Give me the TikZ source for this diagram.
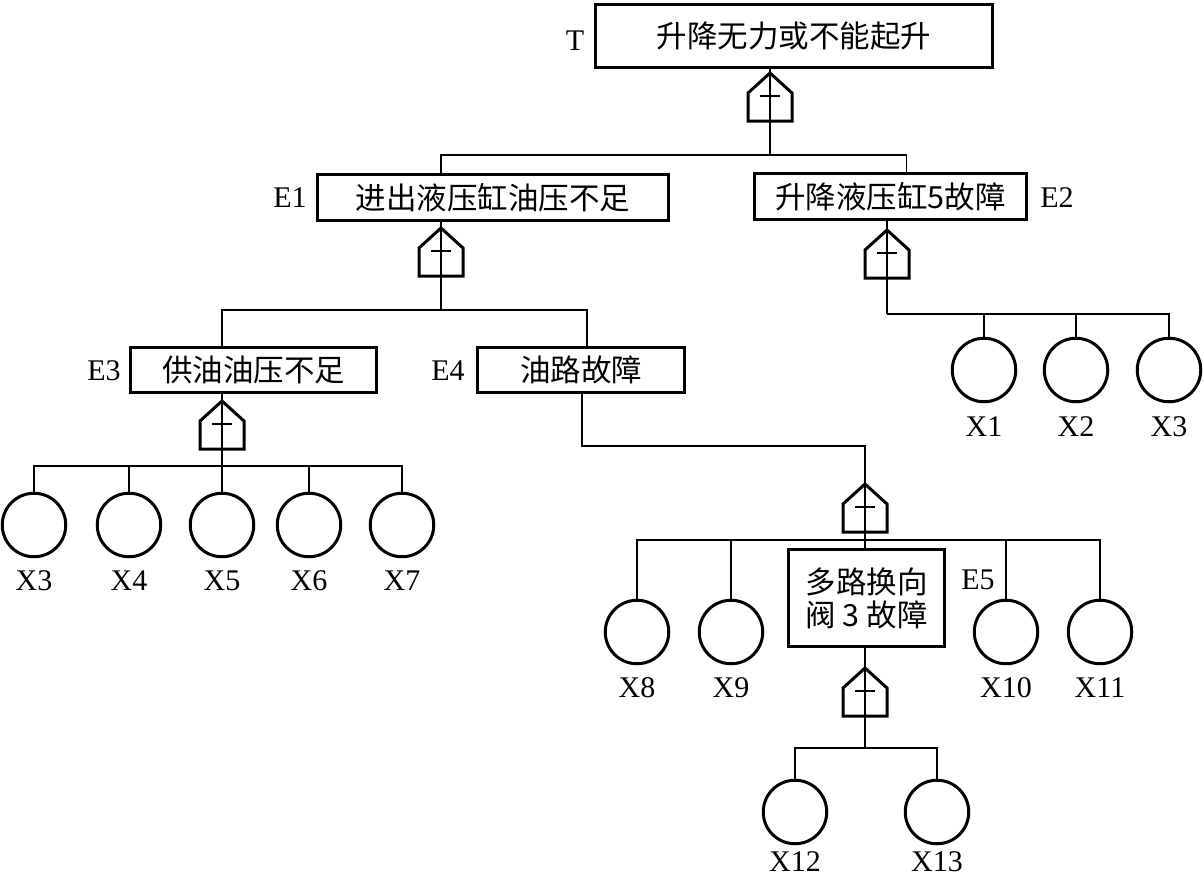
\documentclass[tikz,border=0pt]{standalone}
\usepackage{fontspec}
\setmainfont{Liberation Serif}
\newfontfamily\cjk{Noto Sans CJK SC}
\tikzset{
    orgate/.pic={
        \coordinate (-top) at (0,0);
        \coordinate (-bot) at (0,48);
        \draw[line width=3pt, line join=miter] (-22,48) -- (-22,20) -- (0,0) -- (22,20) -- (22,48) -- cycle;
        \draw[line width=2.4pt] (-10,23) -- (10,23);
    }
}
\begin{document}
\begin{tikzpicture}[
    x=1pt, y=-1pt,
    every node/.style={inner sep=0pt},
    tag/.style={font=\fontsize{30}{32}\selectfont},
    event/.style={draw, line width=3pt, font=\fontsize{30.5}{33}\selectfont\cjk, align=center},
    basic/.style={draw, circle, line width=3pt, minimum size=63.5pt},
    link/.style={draw, line width=1.4pt}
]
\useasboundingbox (0,0) rectangle (1204,878);
\node[event, minimum width=397pt, minimum height=63pt] (T) at (794,36) {升降无力或不能起升};
\node[tag] (Tl) at (575,41) {T};
\node[event, minimum width=351pt, minimum height=46pt] (E1) at (493,197.5) {进出液压缸油压不足};
\node[tag] (E1l) at (290,198) {E1};
\node[event, minimum width=272pt, minimum height=46pt] (E2) at (890.5,196.5) {升降液压缸5故障};
\node[tag] (E2l) at (1057,198) {E2};
\node[event, minimum width=246pt, minimum height=45pt] (E3) at (253.5,370) {供油油压不足};
\node[tag] (E3l) at (104,371) {E3};
\node[event, minimum width=207pt, minimum height=45pt] (E4) at (581,370) {油路故障};
\node[tag] (E4l) at (448,371) {E4};
\node[event, minimum width=156pt, minimum height=97pt] (E5) at (866.5,598) {多路换向\\阀 3 故障};
\node[tag] (E5l) at (978,580) {E5};

\pic (g0) at (770,73) {orgate};
\pic (g1) at (441,228) {orgate};
\pic (g2) at (887,230) {orgate};
\pic (g3) at (222,401) {orgate};
\pic (g4) at (865,484) {orgate};
\pic (g5) at (865,668) {orgate};

\coordinate (b0) at (770,155);
\coordinate (b1) at (441,310);
\coordinate (b2) at (887,314);
\coordinate (b3) at (222,466);
\coordinate (b4) at (865,540);
\coordinate (b5) at (865,748);
\coordinate (k4) at (582,446);

\foreach \i/\x in {1/984, 2/1076, 3/1169} {
    \node[basic] (e2x\i) at (\x,370) {};
    \node[tag] (e2x\i l) at (\x,427) {X\i};
}
\foreach \i/\x in {3/34, 4/129, 5/222, 6/309, 7/402} {
    \node[basic] (e3x\i) at (\x,525) {};
    \node[tag] (e3x\i l) at (\x,581) {X\i};
}
\foreach \i/\x in {8/637, 9/731, 10/1006, 11/1100} {
    \node[basic] (e4x\i) at (\x,632) {};
    \node[tag] (e4x\i l) at (\x,688) {X\i};
}
\foreach \i/\x in {12/795, 13/937} {
    \node[basic] (e5x\i) at (\x,812) {};
    \node[tag] (e5x\i l) at (\x,862) {X\i};
}

\draw[link] (T.south -| g0-top) -- (g0-bot) -- (b0);
\draw[link] (b0) -| (E1.north -| g1-top);
\draw[link] (b0) -| ([xshift=16pt]E2.north);
\draw[link] (E1.south -| g1-top) -- (g1-bot) -- (b1);
\draw[link] (b1) -| (E3.north -| g3-top);
\draw[link] (b1) -| ([xshift=6pt]E4.north);
\draw[link] (E2.south -| g2-top) -- (g2-bot) -- (b2);
\foreach \i in {1,2,3}
    \draw[link] (b2) -| (e2x\i.north);
\draw[link] (E3.south -| g3-top) -- (g3-bot) -- (b3);
\foreach \i in {3,...,7}
    \draw[link] (b3) -| (e3x\i.north);
\draw[link] (E4.south -| k4) -- (k4) -| (g4-top) -- (g4-bot) -- (b4);
\foreach \i in {8,...,11}
    \draw[link] (b4) -| (e4x\i.north);
\draw[link] (b4) -- (E5.north -| b4);
\draw[link] (E5.south -| g5-top) -- (g5-bot) -- (b5);
\foreach \i in {12,13}
    \draw[link] (b5) -| (e5x\i.north);
\end{tikzpicture}
\end{document}
